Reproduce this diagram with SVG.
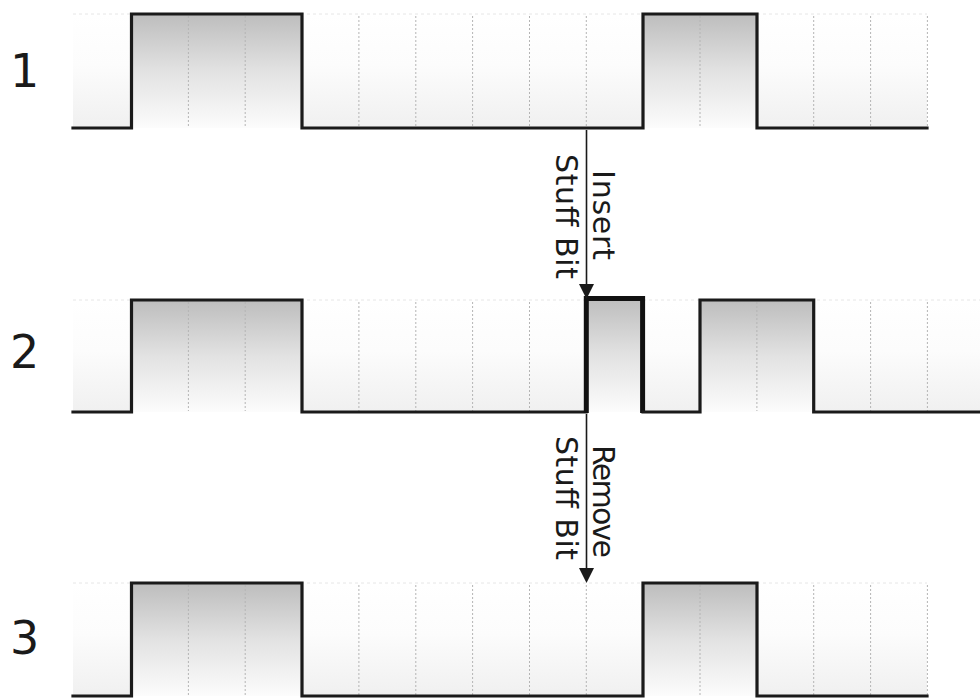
<svg xmlns="http://www.w3.org/2000/svg" width="980" height="700" viewBox="0 0 980 700">
<style>
.sig{fill:none;stroke:#1a1a1a;stroke-width:3.2;stroke-linejoin:miter;stroke-linecap:square}
.stuff{fill:none;stroke:#111;stroke-width:5;stroke-linejoin:miter}
.grid{stroke:#b4b4b4;stroke-width:1;stroke-dasharray:2 2}
.top{stroke:#e6e6e6;stroke-width:1;stroke-dasharray:3 3}
.hi{fill:url(#hiG)}
.bg{fill:url(#bgG)}
.lbl{font-family:"DejaVu Sans",Verdana,sans-serif;font-size:46px;fill:#1a1a1a}
.txt{font-family:"DejaVu Sans",Verdana,sans-serif;font-size:30px;fill:#1a1a1a}
.arr{stroke:#1a1a1a;stroke-width:1.6;fill:none}
</style>
<defs>
<linearGradient id="hiG" x1="0" y1="0" x2="0" y2="1">
<stop offset="0" stop-color="#bdbdbd"/>
<stop offset="0.5" stop-color="#e2e2e2"/>
<stop offset="1" stop-color="#fcfcfc"/>
</linearGradient>
<linearGradient id="bgG" x1="0" y1="0" x2="0" y2="1">
<stop offset="0" stop-color="#ffffff"/>
<stop offset="0.45" stop-color="#fcfcfc"/>
<stop offset="1" stop-color="#f0f0f0"/>
</linearGradient>
</defs>
<rect width="980" height="700" fill="#ffffff"/>

<g id="row1">
<rect class="bg" x="73" y="14" width="854" height="114"/>
<rect class="hi" x="131.5" y="14" width="170.5" height="114"/>
<rect class="hi" x="643" y="14" width="114" height="114"/>
<line class="top" x1="73" y1="14" x2="927" y2="14"/>
<g class="grid">
<line x1="188.4" y1="16" x2="188.4" y2="127"/>
<line x1="245.2" y1="16" x2="245.2" y2="127"/>
<line x1="358.9" y1="16" x2="358.9" y2="127"/>
<line x1="415.8" y1="16" x2="415.8" y2="127"/>
<line x1="472.6" y1="16" x2="472.6" y2="127"/>
<line x1="529.5" y1="16" x2="529.5" y2="127"/>
<line x1="586.3" y1="16" x2="586.3" y2="127"/>
<line x1="700" y1="16" x2="700" y2="127"/>
<line x1="813.7" y1="16" x2="813.7" y2="127"/>
<line x1="870.6" y1="16" x2="870.6" y2="127"/>
<line x1="927.4" y1="16" x2="927.4" y2="127"/>
</g>
<path class="sig" d="M73,128 H131.5 V14 H302 V128 H643 V14 H757 V128 H927"/>
<text class="lbl" x="10" y="87">1</text>
</g>

<g id="row2">
<rect class="bg" x="73" y="300" width="907" height="112"/>
<rect class="hi" x="131.5" y="300" width="170.5" height="112"/>
<rect class="hi" x="586.3" y="298" width="56.5" height="114"/>
<rect class="hi" x="700" y="300" width="113.7" height="112"/>
<line class="top" x1="73" y1="300" x2="980" y2="300"/>
<g class="grid">
<line x1="188.4" y1="302" x2="188.4" y2="411"/>
<line x1="245.2" y1="302" x2="245.2" y2="411"/>
<line x1="358.9" y1="302" x2="358.9" y2="411"/>
<line x1="415.8" y1="302" x2="415.8" y2="411"/>
<line x1="472.6" y1="302" x2="472.6" y2="411"/>
<line x1="529.5" y1="302" x2="529.5" y2="411"/>
<line x1="756.9" y1="302" x2="756.9" y2="411"/>
<line x1="870.6" y1="302" x2="870.6" y2="411"/>
<line x1="927.4" y1="302" x2="927.4" y2="411"/>
</g>
<path class="sig" d="M73,412 H131.5 V300 H302 V412 H586"/>
<path class="stuff" d="M586.3,413 V298.5 H642.6 V413"/>
<path class="sig" d="M643,412 H700 V300 H813.7 V412 H980"/>
<text class="lbl" x="10" y="368">2</text>
</g>

<g id="row3">
<rect class="bg" x="73" y="583" width="854" height="113"/>
<rect class="hi" x="131.5" y="583" width="170.5" height="113"/>
<rect class="hi" x="643" y="583" width="114" height="113"/>
<line class="top" x1="73" y1="583" x2="927" y2="583"/>
<g class="grid">
<line x1="188.4" y1="585" x2="188.4" y2="695"/>
<line x1="245.2" y1="585" x2="245.2" y2="695"/>
<line x1="358.9" y1="585" x2="358.9" y2="695"/>
<line x1="415.8" y1="585" x2="415.8" y2="695"/>
<line x1="472.6" y1="585" x2="472.6" y2="695"/>
<line x1="529.5" y1="585" x2="529.5" y2="695"/>
<line x1="586.3" y1="585" x2="586.3" y2="695"/>
<line x1="700" y1="585" x2="700" y2="695"/>
<line x1="813.7" y1="585" x2="813.7" y2="695"/>
<line x1="870.6" y1="585" x2="870.6" y2="695"/>
<line x1="927.4" y1="585" x2="927.4" y2="695"/>
</g>
<path class="sig" d="M73,696 H131.5 V583 H302 V696 H643 V583 H757 V696 H927"/>
<text class="lbl" x="10" y="654">3</text>
</g>

<g id="connectors">
<g id="insert">
<line class="arr" x1="586.5" y1="130" x2="586.5" y2="286"/>
<path d="M579,284 L594,284 L586.5,299 Z" fill="#1a1a1a"/>
<text class="txt" transform="translate(593,170) rotate(90)" textLength="90">Insert</text>
<text class="txt" transform="translate(556,154) rotate(90)" textLength="125">Stuff Bit</text>
</g>
<g id="remove">
<line class="arr" x1="586.5" y1="414" x2="586.5" y2="570"/>
<path d="M579,568 L594,568 L586.5,583 Z" fill="#1a1a1a"/>
<text class="txt" transform="translate(593,445) rotate(90)" textLength="113">Remove</text>
<text class="txt" transform="translate(556,436) rotate(90)" textLength="124">Stuff Bit</text>
</g>
</g>
</svg>
